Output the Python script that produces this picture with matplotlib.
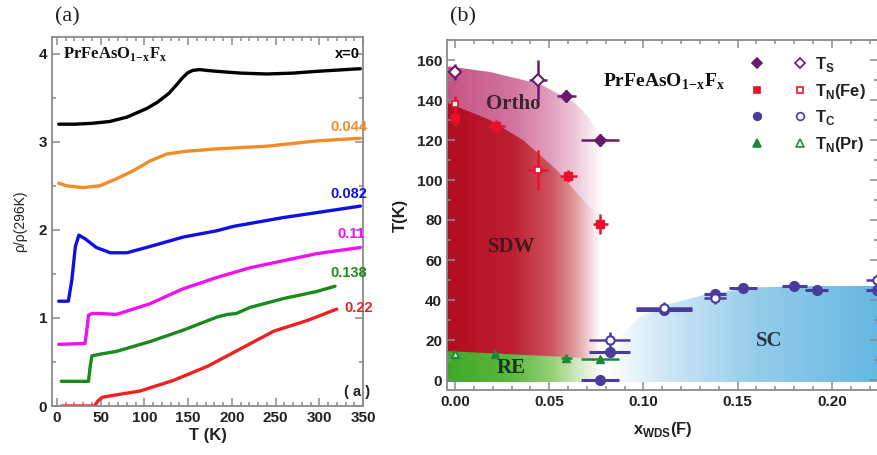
import numpy as np
import matplotlib.pyplot as plt
from matplotlib.patches import Polygon
from matplotlib.colors import LinearSegmentedColormap
from matplotlib.legend_handler import HandlerTuple
from matplotlib.ticker import MultipleLocator

plt.rcParams['mathtext.fontset'] = 'custom'
plt.rcParams['mathtext.bf'] = 'Liberation Serif:bold'
plt.rcParams['mathtext.sf'] = 'Liberation Sans:bold'
plt.rcParams['mathtext.rm'] = 'Liberation Sans:bold'
plt.rcParams['font.family'] = ['Liberation Sans', 'DejaVu Sans']

# ---------------- panel (a): resistivity curves ----------------
curves = {
    'x=0': ([2, 20, 40, 60, 80, 103, 115, 128, 137, 143, 149, 155, 163, 172, 183, 210, 240, 270, 297, 347],
            [3.20, 3.20, 3.21, 3.23, 3.28, 3.38, 3.45, 3.55, 3.65, 3.72, 3.78, 3.81, 3.82, 3.81, 3.80,
             3.78, 3.77, 3.78, 3.80, 3.83]),
    '0.044': ([2, 11, 30, 49, 68, 87, 106, 125, 145, 183, 240, 297, 347],
              [2.53, 2.50, 2.48, 2.50, 2.58, 2.67, 2.78, 2.86, 2.89, 2.92, 2.95, 3.01, 3.04]),
    '0.082': ([2, 13, 17, 21, 25, 32, 45, 61, 80, 106, 145, 183, 202, 259, 300, 347],
              [1.19, 1.19, 1.43, 1.81, 1.94, 1.90, 1.80, 1.74, 1.74, 1.81, 1.92, 1.99, 2.04, 2.14, 2.20, 2.27]),
    '0.11': ([2, 32, 34, 36, 40, 50, 68, 106, 144, 183, 221, 259, 297, 347],
             [0.70, 0.71, 0.85, 1.03, 1.05, 1.05, 1.04, 1.16, 1.33, 1.46, 1.57, 1.65, 1.73, 1.80]),
    '0.138': ([5, 36, 38, 40, 50, 68, 106, 144, 183, 195, 205, 221, 259, 297, 318],
              [0.28, 0.28, 0.45, 0.57, 0.59, 0.62, 0.73, 0.86, 1.01, 1.04, 1.05, 1.12, 1.22, 1.30, 1.36]),
    '0.22': ([5, 43, 47, 52, 70, 95, 133, 172, 210, 248, 286, 320],
             [0.0, 0.0, 0.06, 0.10, 0.13, 0.17, 0.29, 0.45, 0.65, 0.85, 0.97, 1.10]),
}
curve_colors = ['black', '#f28c28', '#1010e0', '#f010f0', '#1a8a1a', '#f02020']
label_pos = [(347, 4.0), (355, 3.17), (355, 2.41), (352, 1.95), (355, 1.51), (362, 1.11)]

# ---------------- panel (b): phase diagram ----------------
# T_S
ts_x = [0.059, 0.077]
ts_y = [142, 120]
ts_xe = [0.005, 0.010]
ts_ye = [3, 3]
ts_ox = [0.0, 0.044]
ts_oy = [154, 150]
ts_oxe = [0.0, 0.005]
ts_oye = [4, 10]
# T_N(Fe)
tn_x = [0.0, 0.022, 0.060, 0.077]
tn_y = [131, 127, 102, 78]
tn_xe = [0.0, 0.0045, 0.0045, 0.004]
tn_ye = [4, 3, 3, 5]
tn_ox = [0.0, 0.044]
tn_oy = [138, 105]
tn_oxe = [0.0, 0.0055]
tn_oye = [4, 10]
# T_c
tc_x = [0.077, 0.082, 0.111, 0.138, 0.153, 0.180, 0.192, 0.224]
tc_y = [0, 14, 35, 43, 46, 47, 45, 45]
tc_xe = [0.010, 0.011, 0.015, 0.006, 0.0075, 0.0066, 0.006, 0.006]
tc_ox = [0.082, 0.111, 0.138, 0.224]
tc_oy = [20, 36, 41, 50]
tc_oxe = [0.011, 0.015, 0.006, 0.006]
tc_oye = [4, 3, 3, 3]
# T_N(Pr)
tp_x = [0.0, 0.021, 0.059, 0.077]
tp_y = [13, 13, 11, 10.5]
tp_xe = [0.0, 0.0, 0.003, 0.010]
tp_ox = [0.0]
tp_oy = [13]

# region boundaries
ortho_x = [-0.005, 0.0186, 0.045, 0.063, 0.070, 0.076, 0.082]
ortho_y = [157, 154, 148, 139, 132.5, 124, 114]
sdw_x = [-0.005, 0.0186, 0.036, 0.054, 0.068, 0.076, 0.082]
sdw_y = [139, 130, 120, 105, 90, 82, 74]
re_x = [-0.005, 0.063, 0.082]
re_y = [14.5, 11.3, 10.0]
sc_x = [0.075, 0.080, 0.088, 0.098, 0.114, 0.132, 0.159, 0.19, 0.24]
sc_y = [0, 10, 21.7, 31.7, 38, 42.5, 46.3, 47, 47]

fig = plt.figure(figsize=(8.77, 4.55), dpi=100)
W, H = 877, 455
axa = fig.add_axes([52 / W, 1 - 406 / H, (363 - 52) / W, (406 - 37) / H])
axb = fig.add_axes([447 / W, 1 - 390 / H, (878 - 447) / W, (390 - 40) / H])

spine_c = '#8a8a8a'
for ax in (axa, axb):
    for s in ax.spines.values():
        s.set_color(spine_c)
        s.set_linewidth(1.3)
    ax.tick_params(which='both', direction='in', top=True, right=True, color=spine_c,
                   labelsize=11, labelcolor='#222222', width=1.1)
    ax.tick_params(which='major', length=6)
    ax.tick_params(which='minor', length=3)

# panel a
for (name, (t, r)), c, (lx, ly) in zip(curves.items(), curve_colors, label_pos):
    axa.plot(t, r, color=c, lw=2.4, solid_capstyle='round', solid_joinstyle='round')
    axa.text(lx, ly, name, color=c, fontsize=10.5, fontweight='bold', ha='right', va='center')
axa.set_xlim(-5.7, 350)
axa.set_ylim(0, 4.19)
axa.xaxis.set_major_locator(MultipleLocator(50))
axa.xaxis.set_minor_locator(MultipleLocator(10))
axa.yaxis.set_major_locator(MultipleLocator(1))
axa.yaxis.set_minor_locator(MultipleLocator(0.5))
for lab in axa.get_xticklabels() + axa.get_yticklabels():
    lab.set_fontweight('bold')
axa.set_xlabel('T (K)', fontsize=12, fontweight='bold', color='#222222', labelpad=2)
axa.set_ylabel('ρ/ρ(296K)', fontsize=10, color='#222222', labelpad=8)
axa.text(7, 4.0, r'PrFeAsO$_{\mathbf{1\!-\!x}}$F$_{\mathbf{x}}$', family='Liberation Serif',
         fontweight='bold', fontsize=12, va='center', color='#111111')
axa.text(358, 0.16, '( a )', fontsize=10.5, fontweight='bold', ha='right', va='center', color='#222222')
fig.text(55 / W, 1 - 17 / H, '(a)', family='Liberation Serif', fontsize=16, va='center', color='#222222')

# panel b: gradient regions clipped to the phase boundaries
xmin, xmax = -0.00426, 0.2245


def norm_stops(stops):
    x0, x1 = stops[0][0], stops[-1][0]
    return [((x - x0) / (x1 - x0), c) for x, c in stops]


def make(ax, bx, by, stops):
    cmap = LinearSegmentedColormap.from_list('g', norm_stops(stops))
    xs = np.linspace(xmin, 0.24, 600)
    x0, x1 = stops[0][0], stops[-1][0]
    vals = np.clip((xs - x0) / (x1 - x0), 0, 1)
    img = cmap(vals)[None, :, :]
    im = ax.imshow(img, extent=[xmin, 0.24, -1.0, 170], aspect='auto',
                   interpolation='bilinear', origin='lower', zorder=1)
    verts = list(zip(bx, by)) + [(bx[-1], -1.0), (bx[0], -1.0)]
    poly = Polygon(verts, closed=True, facecolor='none', edgecolor='none')
    ax.add_patch(poly)
    im.set_clip_path(poly)


ortho_stops = [(xmin, (0.78, 0.33, 0.53)), (0.03, (0.82, 0.45, 0.62)), (0.05, (0.88, 0.62, 0.74)),
               (0.065, (0.94, 0.80, 0.86)), (0.078, (1, 1, 1))]
sdw_stops = [(xmin, (0.70, 0.05, 0.13)), (0.03, (0.74, 0.12, 0.19)), (0.05, (0.80, 0.32, 0.36)),
             (0.062, (0.87, 0.56, 0.58)), (0.071, (0.95, 0.82, 0.83)), (0.077, (1, 1, 1))]
re_stops = [(xmin, (0.25, 0.66, 0.16)), (0.03, (0.36, 0.72, 0.25)), (0.052, (0.60, 0.82, 0.48)),
            (0.066, (0.84, 0.92, 0.78)), (0.078, (1, 1, 1))]
sc_stops = [(0.080, (1, 1, 1)), (0.11, (0.82, 0.91, 0.96)), (0.16, (0.58, 0.80, 0.92)),
            (0.2245, (0.40, 0.72, 0.89))]

make(axb, ortho_x, ortho_y, ortho_stops)
make(axb, sdw_x, sdw_y, sdw_stops)
make(axb, re_x, re_y, re_stops)
make(axb, sc_x, sc_y, sc_stops)

c_ts, c_tn, c_tc, c_tp = '#6a1a6e', '#e8102a', '#4a3c9c', '#1a8a3a'
axb.errorbar(ts_ox, ts_oy, xerr=ts_oxe, yerr=ts_oye, fmt='D', ms=6, mfc='white', mec=c_ts,
             mew=1.5, color=c_ts, elinewidth=1.8, zorder=4)
axb.errorbar(ts_x, ts_y, xerr=ts_xe, yerr=ts_ye, fmt='D', ms=6, color=c_ts, elinewidth=1.8, zorder=4)
axb.errorbar(tn_x, tn_y, xerr=tn_xe, yerr=tn_ye, fmt='s', ms=6, color=c_tn, elinewidth=1.8, zorder=4)
axb.errorbar(tn_ox, tn_oy, xerr=tn_oxe, yerr=tn_oye, fmt='s', ms=4, mfc='white', mec=c_tn,
             mew=1.2, color=c_tn, elinewidth=1.8, zorder=5)
axb.errorbar(tc_x, tc_y, xerr=tc_xe, fmt='o', ms=7, color=c_tc, elinewidth=2.2, zorder=4)
axb.errorbar(tc_ox, tc_oy, xerr=tc_oxe, yerr=tc_oye, fmt='o', ms=6, mfc='white', mec=c_tc,
             mew=1.5, color=c_tc, elinewidth=1.8, zorder=5)
axb.errorbar(tp_x, tp_y, xerr=tp_xe, fmt='^', ms=6, color=c_tp, elinewidth=1.8, zorder=4)
axb.errorbar(tp_ox, tp_oy, fmt='^', ms=4, mfc='white', mec=c_tp, mew=1.0, color=c_tp, zorder=5)

axb.set_xlim(xmin, xmax)
axb.set_ylim(-5, 170)
axb.xaxis.set_minor_locator(MultipleLocator(0.01))
axb.yaxis.set_major_locator(MultipleLocator(20))
axb.yaxis.set_minor_locator(MultipleLocator(10))
axb.set_xticks([0, 0.05, 0.10, 0.15, 0.20])
axb.set_xticklabels(['0.00', '0.05', '0.10', '0.15', '0.20'])
for lab in axb.get_xticklabels() + axb.get_yticklabels():
    lab.set_fontweight('bold')
axb.set_xlabel(r'x$_{\mathsf{WDS}}$(F)', fontsize=12, fontweight='bold', color='#222222', labelpad=8)
axb.set_ylabel('T(K)', fontsize=12, fontweight='bold', color='#222222', labelpad=6)

serif = dict(family='Liberation Serif', fontweight='bold', zorder=3)
axb.text(0.031, 138, 'Ortho', fontsize=15, color='#3a2630', ha='center', va='center', **serif)
axb.text(0.030, 66.7, 'SDW', fontsize=15, color='#4a1418', ha='center', va='center', **serif)
axb.text(0.030, 6, 'RE', fontsize=15, color='#1a3418', ha='center', va='center', **serif)
axb.text(0.1666, 19.7, 'SC', fontsize=15, color='#28384a', ha='center', va='center', **serif)
axb.text(0.0787, 149, r'PrFeAsO$_{\mathbf{1\!-\!x}}$F$_{\mathbf{x}}$', fontsize=14,
         va='center', ha='left', color='#111111', **serif)
fig.text(450 / W, 1 - 17 / H, '(b)', family='Liberation Serif', fontsize=16, va='center', color='#222222')


# legend: filled / open marker pairs
def mk(marker, color, filled, ms):
    return axb.plot([], [], marker, ms=ms, color=color, mfc=color if filled else 'white', mec=color,
                    mew=1.2, ls='none')[0]


handles = [(mk('D', c_ts, True, 5), mk('D', c_ts, False, 5)),
           (mk('s', c_tn, True, 5), mk('s', c_tn, False, 5)),
           (mk('o', c_tc, True, 5.5), mk('o', c_tc, False, 5.5)),
           (mk('^', c_tp, True, 5.5), mk('^', c_tp, False, 5.5))]
labels = [r'T$_{\mathsf{S}}$', r'T$_{\mathsf{N}}$(Fe)', r'T$_{\mathsf{C}}$', r'T$_{\mathsf{N}}$(Pr)']
leg = axb.legend(handles, labels, handler_map={tuple: HandlerTuple(ndivide=None, pad=2.2)},
                 loc='upper right', bbox_to_anchor=(1.0, 0.99), frameon=False,
                 prop={'family': 'Liberation Sans', 'weight': 'bold', 'size': 12},
                 handlelength=3.0, handletextpad=0.7, labelspacing=0.45, borderaxespad=0.3)
for t in leg.get_texts():
    t.set_color('#222222')

fig.savefig('out.png', dpi=100)
